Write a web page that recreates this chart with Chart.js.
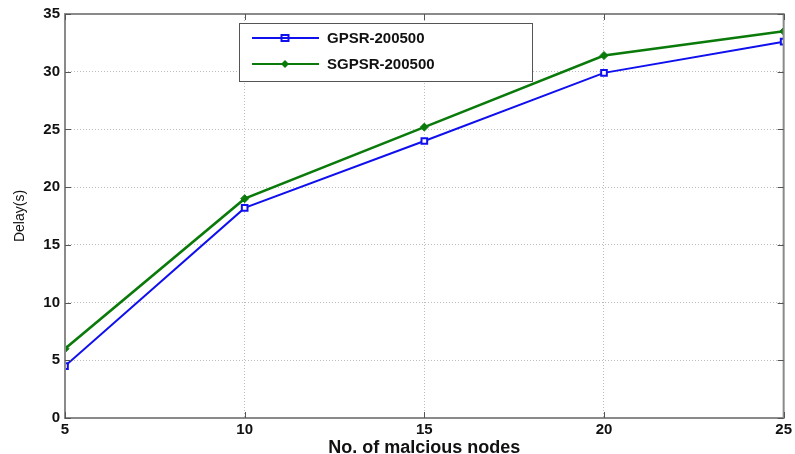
<!DOCTYPE html>
<html>
<head>
<meta charset="utf-8">
<script src="https://cdn.jsdelivr.net/npm/chart.js@4/dist/chart.umd.min.js"></script>
<style>
  body { margin: 0; background: #fff; }
  #wrap { width: 795px; height: 454px; }
</style>
</head>
<body>
<div id="wrap"><canvas id="chart"></canvas></div>
<script>
const nodes = [5, 10, 15, 20, 25];
const gpsr = [4.5, 18.2, 24.0, 29.9, 32.6];
const sgpsr = [6.0, 19.0, 25.2, 31.4, 33.5];
const yTicks = [0, 5, 10, 15, 20, 25, 30, 35];

// box around the plot, inward ticks and the legend box
const framePlugin = {
  id: "frame",
  afterDraw(chart) {
    const { ctx, chartArea: a, scales } = chart;
    ctx.save();
    ctx.strokeStyle = "#8a8a8a";
    ctx.lineWidth = 2;
    ctx.strokeRect(a.left, a.top, a.right - a.left, a.bottom - a.top);

    ctx.lineWidth = 1;
    ctx.strokeStyle = "#555";
    nodes.forEach((v) => {
      const x = Math.round(scales.x.getPixelForValue(v)) + 0.5;
      ctx.beginPath();
      ctx.moveTo(x, a.bottom); ctx.lineTo(x, a.bottom - 6);
      ctx.moveTo(x, a.top); ctx.lineTo(x, a.top + 6);
      ctx.stroke();
    });
    yTicks.forEach((v) => {
      const y = Math.round(scales.y.getPixelForValue(v)) + 0.5;
      ctx.beginPath();
      ctx.moveTo(a.left, y); ctx.lineTo(a.left + 6, y);
      ctx.moveTo(a.right, y); ctx.lineTo(a.right - 6, y);
      ctx.stroke();
    });

    // legend
    const lx = 239, ly = 23, lw = 293, lh = 58;
    ctx.fillStyle = "#fff";
    ctx.fillRect(lx, ly, lw, lh);
    ctx.strokeStyle = "#555";
    ctx.lineWidth = 1;
    ctx.strokeRect(lx + 0.5, ly + 0.5, lw, lh);
    chart.data.datasets.forEach((ds, i) => {
      const y = ly + 15 + i * 26;
      ctx.strokeStyle = ds.borderColor;
      ctx.lineWidth = 2;
      ctx.beginPath();
      ctx.moveTo(252, y); ctx.lineTo(319, y);
      ctx.stroke();
      const cx = 285;
      if (ds.pointStyle === "rect") {
        ctx.strokeRect(cx - 3.5, y - 3, 7, 6);
      } else {
        ctx.fillStyle = ds.borderColor;
        ctx.beginPath();
        ctx.moveTo(cx, y - 4); ctx.lineTo(cx + 4, y);
        ctx.lineTo(cx, y + 4); ctx.lineTo(cx - 4, y);
        ctx.closePath();
        ctx.fill();
      }
      ctx.fillStyle = "#111";
      ctx.font = "bold 15px 'Liberation Sans', Arial, sans-serif";
      ctx.textBaseline = "middle";
      ctx.fillText(ds.label, 327, y + 1);
    });
    ctx.restore();
  },
};

new Chart(document.getElementById("chart"), {
  type: "line",
  data: {
    labels: nodes,
    datasets: [
      {
        label: "GPSR-200500",
        data: gpsr.map((v, i) => ({ x: nodes[i], y: v })),
        borderColor: "#1010ee",
        backgroundColor: "#ffffff",
        borderWidth: 2,
        pointStyle: "rect",
        pointRadius: 4,
        pointBorderWidth: 2,
      },
      {
        label: "SGPSR-200500",
        data: sgpsr.map((v, i) => ({ x: nodes[i], y: v })),
        borderColor: "#0a7a0a",
        backgroundColor: "#0a7a0a",
        borderWidth: 2.5,
        pointStyle: "rectRot",
        pointRadius: 4,
        pointBorderWidth: 1,
      },
    ],
  },
  options: {
    responsive: true,
    maintainAspectRatio: false,
    animation: false,
    layout: { padding: { top: 13, right: 11, left: 0, bottom: 0 } },
    plugins: { legend: { display: false }, tooltip: { enabled: false } },
    scales: {
      x: {
        type: "linear",
        min: 5,
        max: 25,
        afterBuildTicks: (s) => { s.ticks = nodes.map((v) => ({ value: v })); },
        afterFit: (s) => { s.height = 36; },
        grid: { color: "#bdbdbd", drawTicks: false, lineWidth: 1 },
        border: { display: false, dash: [1, 2] },
        ticks: {
          color: "#111",
          padding: 3,
          font: { family: "'Liberation Sans', Arial", size: 15, weight: "bold" },
        },
        title: {
          display: true,
          text: "No. of malcious nodes",
          color: "#111",
          padding: { top: 0, bottom: -5 },
          font: { family: "'Liberation Sans', Arial", size: 18, weight: "bold" },
        },
      },
      y: {
        min: 0,
        max: 35,
        afterBuildTicks: (s) => { s.ticks = yTicks.map((v) => ({ value: v })); },
        afterFit: (s) => { s.width = 65; },
        grid: { color: "#bdbdbd", drawTicks: false, lineWidth: 1 },
        border: { display: false, dash: [1, 2] },
        ticks: {
          color: "#111",
          padding: 5,
          font: { family: "'Liberation Sans', Arial", size: 15, weight: "bold" },
        },
        title: {
          display: true,
          text: "Delay(s)",
          color: "#111",
          padding: { top: 12, bottom: 0 },
          font: { family: "'Liberation Sans', Arial", size: 14 },
        },
      },
    },
  },
  plugins: [framePlugin],
});
</script>
</body>
</html>
